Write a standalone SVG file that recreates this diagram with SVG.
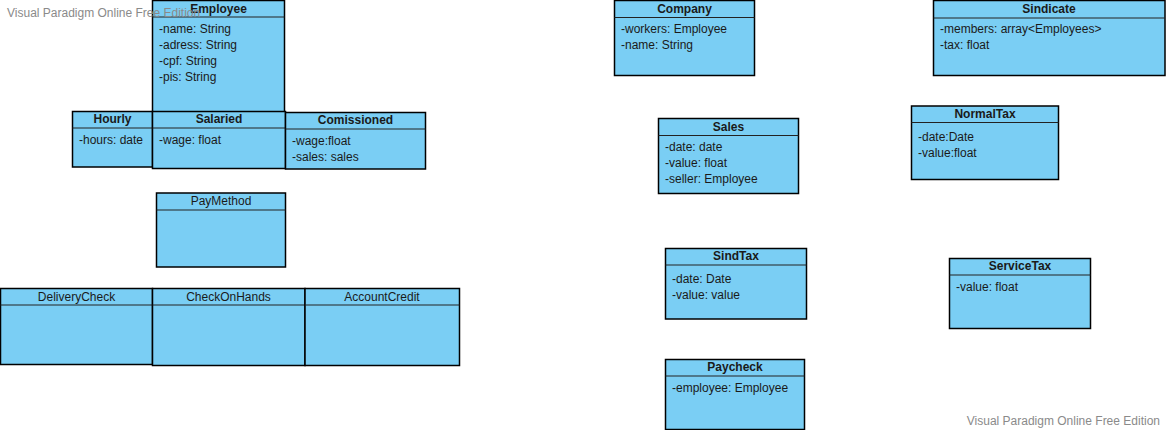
<svg xmlns="http://www.w3.org/2000/svg" width="1166" height="430" viewBox="0 0 1166 430">
  <style>
    .box { fill: #7acef4; stroke: #000; stroke-width: 1.5; }
    .sep { stroke: #222; stroke-width: 1.2; }
    .title { font-family: "Liberation Sans", Arial, sans-serif; font-size: 12px; font-weight: bold; fill: #1a1a1a; text-anchor: middle; }
    .attr { font-family: "Liberation Sans", Arial, sans-serif; font-size: 12px; fill: #1a1a1a; }
    .wm { font-family: "Liberation Sans", Arial, sans-serif; font-size: 12px; fill: #8a8a8a; }
  </style>

  <rect width="1166" height="430" fill="#fff"/>

  <!-- Employee hierarchy -->
  <g id="employee">
    <rect class="box" x="152.5" y="0.5" width="132" height="111.5"/>
    <line class="sep" x1="152.5" y1="17" x2="284.5" y2="17"/>
    <text class="title" x="218.5" y="12.5">Employee</text>
    <text class="attr" x="159" y="33">-name: String</text>
    <text class="attr" x="159" y="49">-adress: String</text>
    <text class="attr" x="159" y="65">-cpf: String</text>
    <text class="attr" x="159" y="81">-pis: String</text>
  </g>

  <g id="hourly">
    <rect class="box" x="72.5" y="111.5" width="80" height="55.5"/>
    <line class="sep" x1="72.5" y1="128" x2="152.5" y2="128"/>
    <text class="title" x="112.5" y="123">Hourly</text>
    <text class="attr" x="79" y="143.5">-hours: date</text>
  </g>

  <g id="salaried">
    <rect class="box" x="152.5" y="111.5" width="133" height="57"/>
    <line class="sep" x1="152.5" y1="128" x2="285.5" y2="128"/>
    <text class="title" x="219" y="123">Salaried</text>
    <text class="attr" x="159" y="143.5">-wage: float</text>
  </g>

  <g id="comissioned">
    <rect class="box" x="285.5" y="112.5" width="140" height="56.5"/>
    <line class="sep" x1="285.5" y1="129" x2="425.5" y2="129"/>
    <text class="title" x="355.5" y="124">Comissioned</text>
    <text class="attr" x="292" y="144.5">-wage:float</text>
    <text class="attr" x="292" y="160.5">-sales: sales</text>
  </g>

  <!-- Payment methods -->
  <g id="paymethod">
    <rect class="box" x="156.5" y="193" width="129" height="74"/>
    <line class="sep" x1="156.5" y1="210" x2="285.5" y2="210"/>
    <text class="title" x="221" y="205" style="font-weight:normal">PayMethod</text>
  </g>

  <g id="deliverycheck">
    <rect class="box" x="0.5" y="288.5" width="152" height="76"/>
    <line class="sep" x1="0.5" y1="305" x2="152.5" y2="305"/>
    <text class="title" x="76.5" y="300.5" style="font-weight:normal">DeliveryCheck</text>
  </g>

  <g id="checkonhands">
    <rect class="box" x="152.5" y="288.5" width="152.5" height="77"/>
    <line class="sep" x1="152.5" y1="305" x2="305" y2="305"/>
    <text class="title" x="228.5" y="300.5" style="font-weight:normal">CheckOnHands</text>
  </g>

  <g id="accountcredit">
    <rect class="box" x="305" y="288.5" width="154.5" height="77"/>
    <line class="sep" x1="305" y1="305" x2="459.5" y2="305"/>
    <text class="title" x="382" y="300.5" style="font-weight:normal">AccountCredit</text>
  </g>

  <!-- Company side -->
  <g id="company">
    <rect class="box" x="614.5" y="0.5" width="140" height="75"/>
    <line class="sep" x1="614.5" y1="17.5" x2="754.5" y2="17.5"/>
    <text class="title" x="684.5" y="12.5">Company</text>
    <text class="attr" x="621" y="32.5">-workers: Employee</text>
    <text class="attr" x="621" y="48.5">-name: String</text>
  </g>

  <g id="sales">
    <rect class="box" x="658.5" y="118.5" width="140" height="75"/>
    <line class="sep" x1="658.5" y1="135.5" x2="798.5" y2="135.5"/>
    <text class="title" x="728.5" y="131">Sales</text>
    <text class="attr" x="665" y="151">-date: date</text>
    <text class="attr" x="665" y="167">-value: float</text>
    <text class="attr" x="665" y="183">-seller: Employee</text>
  </g>

  <g id="sindtax">
    <rect class="box" x="665.5" y="248.5" width="141" height="70.5"/>
    <line class="sep" x1="665.5" y1="265" x2="806.5" y2="265"/>
    <text class="title" x="736" y="260">SindTax</text>
    <text class="attr" x="672" y="283">-date: Date</text>
    <text class="attr" x="672" y="299">-value: value</text>
  </g>

  <g id="paycheck">
    <rect class="box" x="665.5" y="359.5" width="139" height="70"/>
    <line class="sep" x1="665.5" y1="376" x2="804.5" y2="376"/>
    <text class="title" x="735" y="371">Paycheck</text>
    <text class="attr" x="672" y="391.5">-employee: Employee</text>
  </g>

  <!-- Syndicate side -->
  <g id="sindicate">
    <rect class="box" x="933.5" y="0.5" width="231.5" height="75"/>
    <line class="sep" x1="933.5" y1="18" x2="1165" y2="18"/>
    <text class="title" x="1049" y="12.5">Sindicate</text>
    <text class="attr" x="940" y="32.5">-members: array&lt;Employees&gt;</text>
    <text class="attr" x="940" y="48.5">-tax: float</text>
  </g>

  <g id="normaltax">
    <rect class="box" x="911.5" y="106" width="147" height="73.5"/>
    <line class="sep" x1="911.5" y1="122.5" x2="1058.5" y2="122.5"/>
    <text class="title" x="985" y="118">NormalTax</text>
    <text class="attr" x="918" y="141">-date:Date</text>
    <text class="attr" x="918" y="157">-value:float</text>
  </g>

  <g id="servicetax">
    <rect class="box" x="949.5" y="258.5" width="141" height="70"/>
    <line class="sep" x1="949.5" y1="275" x2="1090.5" y2="275"/>
    <text class="title" x="1020" y="270">ServiceTax</text>
    <text class="attr" x="956" y="291">-value: float</text>
  </g>

  <g id="connectors"/>

  <!-- Edition marks -->
  <text class="wm" x="7" y="17">Visual Paradigm Online Free Edition</text>
  <text class="wm" x="1160" y="425" text-anchor="end">Visual Paradigm Online Free Edition</text>
</svg>
